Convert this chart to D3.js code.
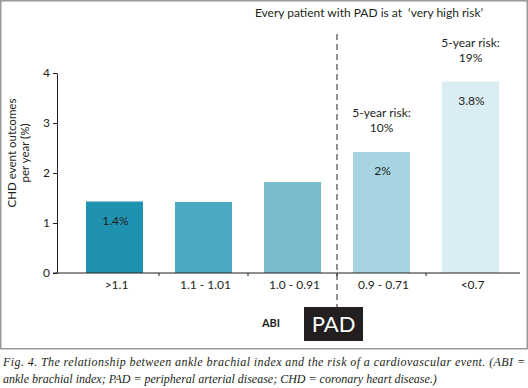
<!DOCTYPE html>
<html>
<head>
<meta charset="utf-8">
<script src="https://cdn.jsdelivr.net/npm/d3@7"></script>
<style>
  body { margin: 0; background: #fff; }
  svg { display: block; }
</style>
</head>
<body>
<svg id="chart"></svg>
<script>
// ABI categories and CHD event rates (% per year)
let categories = ['>1.1', '1.1 - 1.01', '1.0 - 0.91', '0.9 - 0.71', '<0.7'];
let values = [1.43, 1.42, 1.82, 2.42, 3.83];
let barColors = ['#1e92b0', '#4aa8c0', '#78bccd', '#a6d4e0', '#daedf3'];
let insideLabels = ['1.4%', '', '', '2%', '3.8%'];
let riskLabels = ['', '', '', '10%', '19%'];
let yTicks = [0, 1, 2, 3, 4];

let width = 528;
let height = 388;
let font = 'Lato, "Open Sans", sans-serif';
let ink = '#231f20';

let svg = d3.select('#chart').attr('width', width).attr('height', height);

// frame
svg.append('rect')
  .attr('x', 0.75).attr('y', 0.75)
  .attr('width', width - 1.5).attr('height', 348)
  .attr('fill', 'none')
  .attr('stroke', '#9a9a9a')
  .attr('stroke-width', 1.5);

let y = d3.scaleLinear().domain([0, 4]).range([273, 73]);

let x = d3.scaleBand()
  .domain(categories)
  .range([70, 515])
  .paddingInner(0.36)
  .paddingOuter(0.18);

let axisLeft = 57, axisRight = 520;

//bars
svg.append('g').selectAll('rect')
  .data(values)
  .enter().append('rect')
  .attr('x', (d, i) => x(categories[i]))
  .attr('y', d => y(d))
  .attr('width', x.bandwidth())
  .attr('height', d => y(0) - y(d))
  .attr('fill', (d, i) => barColors[i]);

// y axis
let yAxis = d3.axisLeft(y)
  .tickValues(yTicks)
  .tickFormat(d3.format('d'))
  .tickSize(4).tickPadding(3).tickSizeOuter(0);
let gy = svg.append('g')
  .attr('transform', `translate(${axisLeft},0)`)
  .call(yAxis);
gy.select('.domain').attr('stroke', ink);
gy.selectAll('.tick line').attr('stroke', ink);
gy.selectAll('text')
  .attr('font-family', font)
  .attr('font-size', 12)
  .attr('fill', ink);

// x axis line + ticks between categories
let xg = svg.append('g');
xg.append('line')
  .attr('x1', axisLeft - 4).attr('x2', axisRight)
  .attr('y1', y(0)).attr('y2', y(0))
  .attr('stroke', ink);
let bounds = categories.slice(1).map(c => x(c) - x.step() * x.paddingInner() / 2);
xg.selectAll('.tick')
  .data(bounds)
  .enter().append('line')
  .attr('x1', d => d).attr('x2', d => d)
  .attr('y1', y(0)).attr('y2', y(0) + 3)
  .attr('stroke', ink);
xg.selectAll('text')
  .data(categories)
  .enter().append('text')
  .attr('x', d => x(d) + x.bandwidth() / 2 + 2)
  .attr('y', 289)
  .attr('text-anchor', 'middle')
  .attr('font-family', font)
  .attr('font-size', 12)
  .attr('fill', ink)
  .text(d => d);

// y title
let yt = svg.append('text')
  .attr('transform', 'translate(16,153) rotate(-90)')
  .attr('text-anchor', 'middle')
  .attr('font-family', font)
  .attr('font-size', 11.5)
  .attr('fill', ink);
yt.append('tspan').attr('x', 0).attr('dy', 0).text('CHD event outcomes');
yt.append('tspan').attr('x', 0).attr('dy', 13).text('per year (%)');

// values inside bars
svg.append('g').selectAll('text')
  .data(values)
  .enter().append('text')
  .attr('x', (d, i) => x(categories[i]) + x.bandwidth() / 2 + 1)
  .attr('y', d => y(d) + 23)
  .attr('text-anchor', 'middle')
  .attr('font-family', font)
  .attr('font-size', 12)
  .attr('fill', ink)
  .text((d, i) => insideLabels[i]);

// 5-year risk labels above bars
let risk = svg.append('g').selectAll('text')
  .data(values.map((v, i) => ({ v, i })).filter(d => riskLabels[d.i]))
  .enter().append('text')
  .attr('text-anchor', 'middle')
  .attr('font-family', font)
  .attr('font-size', 12)
  .attr('fill', ink);
risk.append('tspan')
  .attr('x', d => x(categories[d.i]) + x.bandwidth() / 2)
  .attr('y', d => y(d.v) - 35)
  .text('5-year risk:');
risk.append('tspan')
  .attr('x', d => x(categories[d.i]) + x.bandwidth() / 2)
  .attr('y', d => y(d.v) - 20)
  .text(d => riskLabels[d.i]);

// PAD divider
let divX = bounds[2];
svg.append('line')
  .attr('x1', divX).attr('x2', divX)
  .attr('y1', 34).attr('y2', 307)
  .attr('stroke', ink)
  .attr('stroke-width', 1)
  .attr('stroke-dasharray', '6,4');

svg.append('text')
  .attr('x', 369).attr('y', 17)
  .attr('text-anchor', 'middle')
  .attr('font-family', font)
  .attr('font-size', 12)
  .attr('fill', ink)
  .style('white-space', 'pre')
  .text('Every patient with PAD is at  \u2018very high risk\u2019');

svg.append('rect')
  .attr('x', 304).attr('y', 307)
  .attr('width', 59).attr('height', 34)
  .attr('fill', ink);
svg.append('text')
  .attr('x', 333.5).attr('y', 332)
  .attr('text-anchor', 'middle')
  .attr('font-family', font)
  .attr('font-size', 22)
  .attr('fill', '#fff')
  .text('PAD');

svg.append('text')
  .attr('x', 271).attr('y', 327)
  .attr('text-anchor', 'middle')
  .attr('font-family', font)
  .attr('font-size', 11)
  .attr('font-weight', 'bold')
  .attr('fill', ink)
  .text('ABI');

// caption
let capFont = '"Liberation Serif", "Times New Roman", serif';
svg.append('text')
  .attr('x', 3).attr('y', 366)
  .attr('font-family', capFont)
  .attr('font-style', 'italic')
  .attr('font-size', 12)
  .attr('fill', ink)
  .attr('textLength', 522)
  .attr('lengthAdjust', 'spacing')
  .text('Fig. 4. The relationship between ankle brachial index and the risk of a cardiovascular event. (ABI =');
svg.append('text')
  .attr('x', 3).attr('y', 383)
  .attr('font-family', capFont)
  .attr('font-style', 'italic')
  .attr('font-size', 12)
  .attr('fill', ink)
  .text('ankle brachial index; PAD = peripheral arterial disease; CHD = coronary heart disease.)');
</script>
</body>
</html>
